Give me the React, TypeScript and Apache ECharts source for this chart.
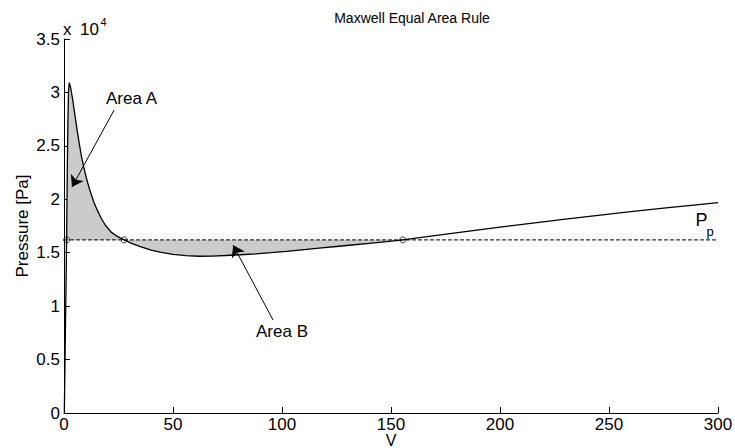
import React, { useEffect, useRef } from 'react';
import * as echarts from 'echarts';

// Volume values (x) and pressure values in Pa (y)
const volume = [
  0.15, 0.5, 0.9, 1.2, 1.5, 1.8, 2.1, 2.4, 3.0, 4.0, 5.0, 6.0, 7.0, 8.0, 9.0,
  10.5, 12, 13.6, 15, 17, 19, 21.5, 24, 27.6, 31, 35, 40, 44, 50, 56, 62, 68,
  74, 81, 88, 95, 102, 108, 117, 125, 132, 140, 148, 155.4, 170, 185, 200,
  215, 230, 245, 260, 275, 290, 300,
];
const pressure = [
  0, 5500, 11500, 16200, 22500, 27500, 30200, 30900, 30500, 29300, 27900,
  26500, 25200, 24050, 23050, 21800, 20750, 19800, 19100, 18250, 17570,
  16950, 16580, 16200, 15870, 15560, 15250, 15050, 14850, 14730, 14670,
  14690, 14740, 14810, 14900, 15000, 15120, 15240, 15420, 15580, 15720,
  15880, 16040, 16200, 16600, 17000, 17390, 17770, 18140, 18500, 18840,
  19170, 19480, 19680,
];
const plateauPressure = 16200;
const crossingVolumes = [1.2, 27.6, 155.4];
const lineEnds = [0, 300];
// annotation arrows in data coordinates: [tailV, tailP, headV, headP]
const arrowA = [23.0, 28350, 3.66, 21150];
const arrowB = [95.9, 8700, 77.6, 15700];

const FONT = '"Liberation Sans", Arial, Helvetica, sans-serif';

export default function App() {
  const ref = useRef<HTMLDivElement>(null);
  useEffect(() => {
    const chart = echarts.init(ref.current!, null, { renderer: 'svg' });
    const curve = volume.map((v, i) => [v, pressure[i]]);
    const fill = curve.filter(
      ([v]) => v >= crossingVolumes[0] && v <= crossingVolumes[2]
    );
    const axisCommon = {
      axisLine: { show: true, lineStyle: { color: '#000', width: 1 } },
      axisTick: { show: true, inside: true, length: 6, lineStyle: { color: '#000', width: 1 } },
      splitLine: { show: false },
    };
    const txt = (text: string, x: number, y: number, size: number, align = 'center', rotation = 0) => ({
      type: 'text',
      x,
      y,
      rotation,
      style: { text, font: `${size}px ${FONT}`, fill: '#000', align, verticalAlign: 'middle' },
    });
    chart.setOption({
      animation: false,
      backgroundColor: '#fff',
      grid: {
        left: 64,
        right: 17,
        top: 39,
        bottom: 35,
        containLabel: false,
        outerBoundsMode: 'none',
      },
      xAxis: {
        type: 'value',
        min: 0,
        max: 300,
        interval: 50,
        ...axisCommon,
        axisLabel: { color: '#000', fontSize: 17, fontFamily: FONT, margin: 3 },
      },
      yAxis: {
        type: 'value',
        min: 0,
        max: 35000,
        interval: 5000,
        ...axisCommon,
        axisLabel: {
          color: '#000',
          fontSize: 17,
          fontFamily: FONT,
          margin: 4,
          formatter: (v: number) => String(v / 10000),
        },
      },
      series: [
        {
          type: 'line',
          data: fill,
          symbol: 'none',
          silent: true,
          lineStyle: { width: 0, opacity: 0 },
          areaStyle: { color: '#cbcbcb', opacity: 1, origin: plateauPressure },
          z: 1,
        },
        {
          type: 'line',
          data: lineEnds.map((v) => [v, plateauPressure]),
          symbol: 'none',
          silent: true,
          lineStyle: { color: '#000', width: 1, type: [4, 2] },
          z: 2,
          markLine: {
            silent: true,
            symbol: ['none', 'arrow'],
            symbolSize: 11,
            label: { show: false },
            lineStyle: { color: '#000', width: 1, type: 'solid' },
            data: [
              [{ coord: [arrowA[0], arrowA[1]] }, { coord: [arrowA[2], arrowA[3]] }],
              [{ coord: [arrowB[0], arrowB[1]] }, { coord: [arrowB[2], arrowB[3]] }],
            ],
          },
        },
        {
          type: 'line',
          data: curve,
          symbol: 'none',
          silent: true,
          lineStyle: { color: '#000', width: 1.3 },
          z: 3,
        },
        {
          type: 'scatter',
          data: crossingVolumes.map((v) => [v, plateauPressure]),
          symbol: 'circle',
          symbolSize: 6,
          silent: true,
          itemStyle: { color: 'rgba(0,0,0,0)', borderColor: '#000', borderWidth: 1 },
          z: 4,
        },
      ],
      graphic: [
        txt('Maxwell Equal Area Rule', 412, 18, 14),
        txt('x', 63, 29, 17, 'left'),
        txt('10', 80, 29, 17, 'left'),
        txt('4', 100.5, 21.5, 11, 'left'),
        txt('Area A', 131.5, 98, 17),
        txt('Area B', 282, 331, 17),
        txt('P', 701.5, 219.5, 18),
        txt('p', 706.5, 231, 13, 'left'),
        txt('V', 391, 440, 16),
        txt('Pressure [Pa]', 22.5, 226, 17, 'center', Math.PI / 2),
      ],
    });
    return () => chart.dispose();
  }, []);
  return (
    <div
      ref={ref}
      style={{ position: 'absolute', left: 0, top: 0, width: 735, height: 448 }}
    />
  );
}
